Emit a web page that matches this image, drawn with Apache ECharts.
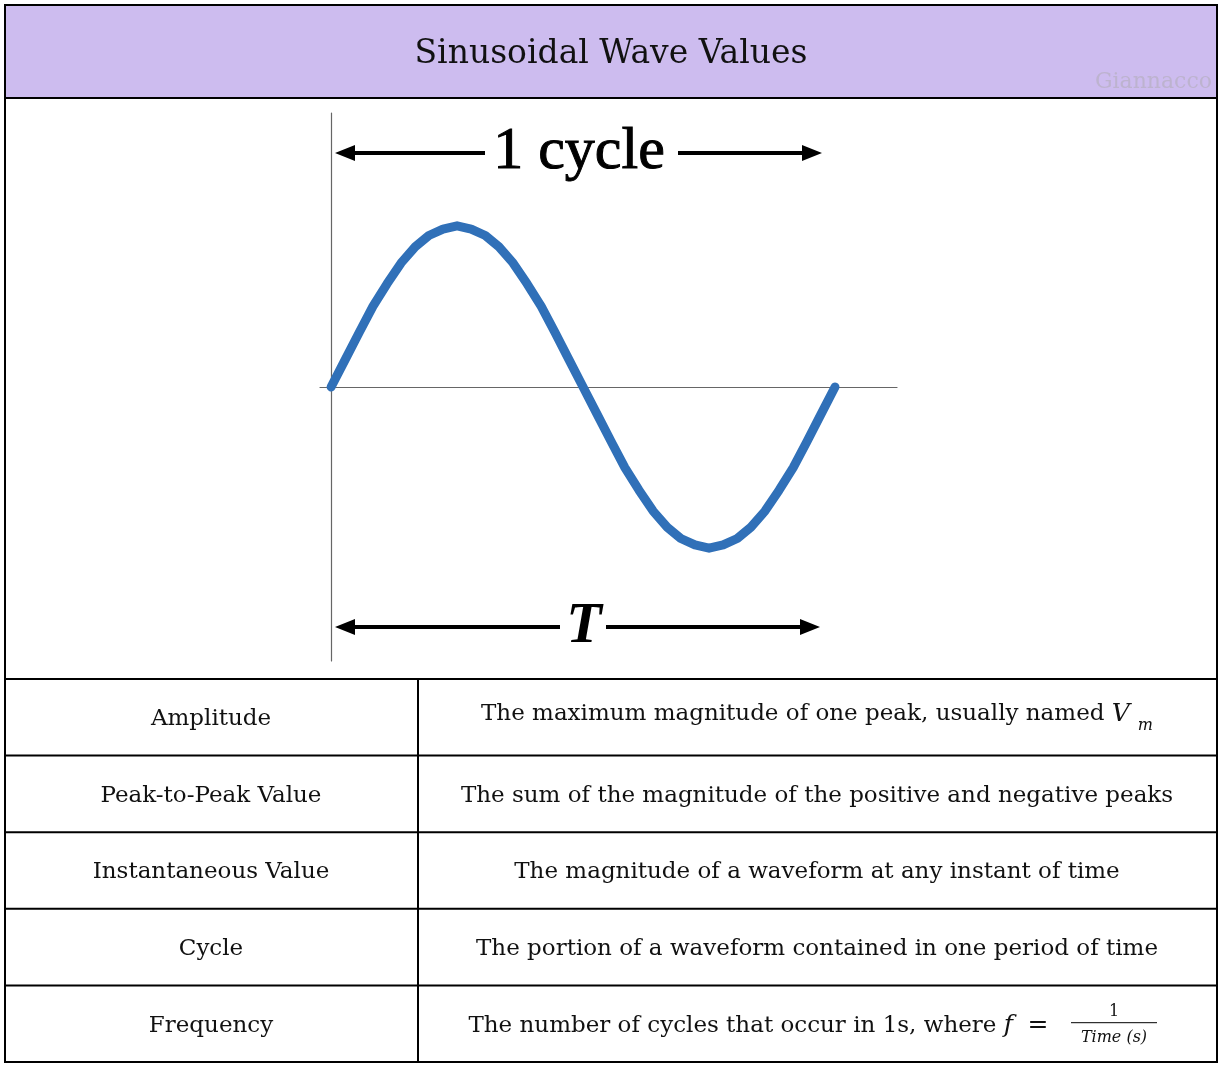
<!DOCTYPE html>
<html><head><meta charset="utf-8">
<script src="https://cdn.jsdelivr.net/npm/echarts@6/dist/echarts.min.js"></script>
<style>html,body{margin:0;background:#fff}#c{width:1224px;height:1068px}</style>
</head><body><div id="c"></div>
<script>
// Onde sinusoïdale : un cycle (36 pas), puis tableau des définitions.
const phase = [0, 0.028, 0.056, 0.083, 0.111, 0.139, 0.167, 0.194, 0.222, 0.25, 0.278, 0.306, 0.333,
  0.361, 0.389, 0.417, 0.444, 0.472, 0.5, 0.528, 0.556, 0.583, 0.611, 0.639, 0.667, 0.694, 0.722,
  0.75, 0.778, 0.806, 0.833, 0.861, 0.889, 0.917, 0.944, 0.972, 1];
const amplitude = [0, 0.17, 0.34, 0.5, 0.64, 0.77, 0.87, 0.94, 0.98, 1, 0.98, 0.94, 0.87,
  0.77, 0.64, 0.5, 0.34, 0.17, 0, -0.17, -0.34, -0.5, -0.64, -0.77, -0.87, -0.94, -0.98,
  -1, -0.98, -0.94, -0.87, -0.77, -0.64, -0.5, -0.34, -0.17, 0];
const termes = ["Amplitude", "Peak-to-Peak Value", "Instantaneous Value", "Cycle", "Frequency"];
const definitions = [
  "The maximum magnitude of one peak, usually named {i|V}{sub|m}",
  "The sum of the magnitude of the positive and negative peaks",
  "The magnitude of a waveform at any instant of time",
  "The portion of a waveform contained in one period of time",
  "The number of cycles that occur in 1s, where {i|f}  {eq|=}                ",
];

const serif = "'DejaVu Serif', serif";
const noir = "#000";
const g = [];
// cadre + bandeau
g.push({ type: "rect", shape: { x: 5, y: 5, width: 1212, height: 93 }, style: { fill: "#cdbcef", stroke: noir, lineWidth: 2 } });
g.push({ type: "rect", shape: { x: 5, y: 98, width: 1212, height: 964 }, style: { fill: "none", stroke: noir, lineWidth: 2 } });
g.push({ type: "text", x: 611, y: 54, style: { text: "Sinusoidal Wave Values", font: "33px " + serif, fill: "#111", align: "center", verticalAlign: "middle" } });
g.push({ type: "text", x: 1212, y: 82, style: { text: "Giannacco", font: "22px " + serif, fill: "#bdb3cf", align: "right", verticalAlign: "middle" } });

function fleche(x1, x2, y) {
  const d = x2 > x1 ? 1 : -1;
  g.push({ type: "line", shape: { x1, y1: y, x2: x2 - d * 12, y2: y }, style: { stroke: noir, lineWidth: 4 } });
  g.push({ type: "polygon", shape: { points: [[x2, y], [x2 - d * 20, y - 8], [x2 - d * 20, y + 8]] }, style: { fill: noir } });
}
fleche(485, 335, 153); fleche(678, 822, 153);
g.push({ type: "text", x: 579, y: 152, style: { text: "1 cycle", font: "60px 'Liberation Serif', serif", fill: noir, stroke: noir, lineWidth: 1, align: "center", verticalAlign: "middle" } });
fleche(560, 335, 627); fleche(606, 820, 627);
g.push({ type: "text", x: 584, y: 627, style: { text: "T", font: "italic bold 58px 'Liberation Serif', serif", fill: noir, align: "center", verticalAlign: "middle" } });

// tableau
const haut = 679, pas = 76.6;
termes.forEach((t, i) => {
  const y = haut + i * pas;
  g.push({ type: "line", shape: { x1: 5, y1: y, x2: 1217, y2: y }, style: { stroke: noir, lineWidth: 2 } });
  g.push({ type: "text", x: 211, y: y + pas / 2 + 2, style: { text: t, font: "23px " + serif, fill: "#111", align: "center", verticalAlign: "middle" } });
  g.push({ type: "text", x: 817, y: y + pas / 2 + (i === 0 ? -3 : 2), style: {
    text: definitions[i], font: "23px " + serif, fill: "#111", align: "center", verticalAlign: "middle",
    rich: {
      i: { fontStyle: "italic", fontFamily: serif, fontSize: 25 },
      sub: { fontStyle: "italic", fontFamily: serif, fontSize: 16, padding: [24, 0, 0, 8] },
      eq: { fontFamily: serif, fontSize: 25 },
    } } });
});
g.push({ type: "line", shape: { x1: 418, y1: haut, x2: 418, y2: 1062 }, style: { stroke: noir, lineWidth: 2 } });
// fraction de la fréquence
const yf = haut + 4 * pas + pas / 2;
g.push({ type: "line", shape: { x1: 1071, y1: yf - 1, x2: 1157, y2: yf - 1 }, style: { stroke: noir, lineWidth: 1 } });
g.push({ type: "text", x: 1114, y: yf - 12, style: { text: "1", font: "16px " + serif, fill: "#111", align: "center", verticalAlign: "middle" } });
g.push({ type: "text", x: 1114, y: yf + 14, style: { text: "Time (s)", font: "italic 16px " + serif, fill: "#111", align: "center", verticalAlign: "middle" } });

const chart = echarts.init(document.getElementById("c"));
chart.setOption({
  animation: false,
  grid: { left: 320, width: 577, top: 113, height: 548 },
  xAxis: { type: "value", min: -0.022, max: 1.123, axisLine: { lineStyle: { color: "#666", width: 1.2 } },
    axisTick: { show: false }, axisLabel: { show: false }, splitLine: { show: false } },
  yAxis: { type: "value", min: -1.7, max: 1.7, axisLine: { show: true, onZero: true, lineStyle: { color: "#666", width: 1.2 } },
    axisTick: { show: false }, axisLabel: { show: false }, splitLine: { show: false } },
  series: [{ type: "line", smooth: false, symbol: "none", data: phase.map((p, i) => [p, amplitude[i]]),
    lineStyle: { color: "#3070b8", width: 9, cap: "round", join: "round" } }],
  graphic: g,
});
</script></body></html>
